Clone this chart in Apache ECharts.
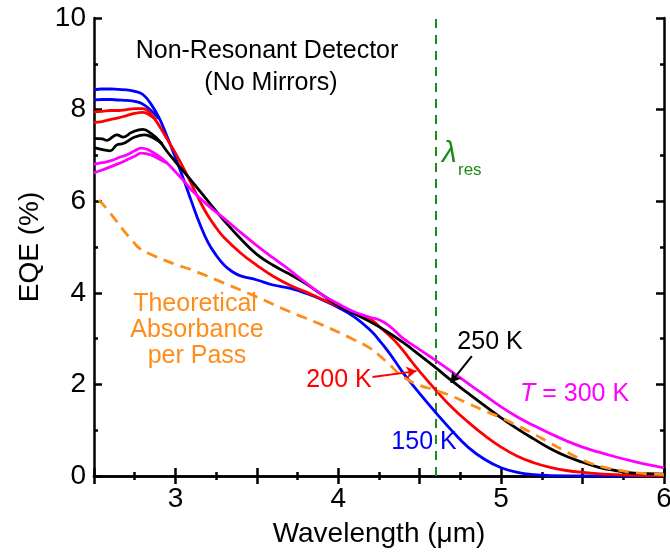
<!DOCTYPE html>
<html><head><meta charset="utf-8">
<script src="https://cdn.jsdelivr.net/npm/echarts@6/dist/echarts.min.js"></script>
<style>html,body{margin:0;padding:0;background:#fff}#c{width:670px;height:556px}</style>
</head><body><div id="c"></div>
<script>
// ---------- data ----------
const wl150  = [2.5,2.55,2.6,2.65,2.7,2.75,2.8,2.85,2.9,2.95,3.0,3.05,3.1,3.15,3.2,3.25,3.3,3.35,3.4,3.5,3.6,3.7,3.8,3.9,4.0,4.1,4.2,4.25,4.3,4.35,4.4,4.5,4.6,4.7,4.8,4.9,5.0,5.1,5.2,5.3,5.5,5.75,6.0];
const eqe150 = [8.43,8.45,8.45,8.44,8.43,8.40,8.33,8.12,7.82,7.40,6.95,6.48,5.98,5.50,5.10,4.82,4.60,4.46,4.37,4.28,4.17,4.10,3.99,3.85,3.68,3.47,3.17,2.97,2.75,2.50,2.24,1.80,1.38,0.98,0.62,0.36,0.18,0.08,0.03,0.01,0.0,0.0,0.0];
const wl150b  = [2.5,2.55,2.6,2.65,2.7,2.75,2.8,2.85,2.9];
const eqe150b = [8.21,8.22,8.22,8.21,8.20,8.18,8.12,7.98,7.80];

const wl200  = [2.5,2.55,2.6,2.65,2.7,2.75,2.8,2.85,2.9,2.95,3.0,3.05,3.1,3.15,3.2,3.25,3.3,3.4,3.5,3.6,3.7,3.8,3.9,4.0,4.1,4.2,4.25,4.3,4.35,4.4,4.45,4.5,4.6,4.7,4.8,4.9,5.0,5.1,5.2,5.3,5.4,5.5,5.7,6.0];
const eqe200 = [7.95,7.96,7.98,7.98,8.00,8.02,8.02,7.90,7.65,7.35,7.05,6.72,6.36,6.00,5.68,5.42,5.20,4.87,4.60,4.36,4.17,4.02,3.86,3.71,3.56,3.42,3.27,3.11,2.94,2.73,2.50,2.28,1.87,1.49,1.17,0.88,0.63,0.43,0.29,0.19,0.12,0.08,0.03,0.01];
const wl200b  = [2.5,2.55,2.6,2.65,2.7,2.75,2.8,2.85,2.88];
const eqe200b = [7.72,7.74,7.78,7.82,7.87,7.92,7.94,7.86,7.78];

const wl250  = [2.5,2.55,2.58,2.62,2.64,2.68,2.73,2.8,2.85,2.9,2.95,3.0,3.05,3.1,3.2,3.3,3.4,3.5,3.6,3.7,3.8,3.9,4.0,4.1,4.2,4.3,4.4,4.5,4.6,4.7,4.8,4.9,5.0,5.1,5.2,5.3,5.4,5.5,5.6,5.7,5.8,5.9,6.0];
const eqe250 = [7.37,7.36,7.33,7.42,7.45,7.40,7.50,7.57,7.48,7.32,7.08,6.86,6.65,6.44,6.00,5.57,5.18,4.84,4.60,4.41,4.20,3.96,3.72,3.54,3.36,3.15,2.91,2.64,2.36,2.07,1.80,1.53,1.27,1.03,0.81,0.60,0.43,0.30,0.19,0.12,0.07,0.05,0.04];
const wl250b  = [2.5,2.56,2.6,2.64,2.68,2.75,2.81,2.87,2.92];
const eqe250b = [7.17,7.12,7.10,7.23,7.26,7.40,7.45,7.37,7.25];

const wl300  = [2.5,2.55,2.6,2.65,2.7,2.75,2.79,2.83,2.9,2.95,3.0,3.05,3.1,3.2,3.3,3.4,3.5,3.6,3.7,3.8,3.9,4.0,4.1,4.2,4.25,4.3,4.35,4.4,4.5,4.6,4.7,4.8,4.9,5.0,5.1,5.2,5.3,5.4,5.5,5.6,5.7,5.8,5.9,6.0];
const eqe300 = [6.81,6.84,6.88,6.95,7.01,7.10,7.16,7.13,6.98,6.83,6.64,6.45,6.24,5.91,5.62,5.32,5.03,4.76,4.50,4.22,3.96,3.76,3.58,3.46,3.41,3.31,3.16,3.00,2.76,2.52,2.27,2.01,1.76,1.51,1.29,1.10,0.93,0.77,0.63,0.52,0.42,0.33,0.25,0.18];
const wl300b  = [2.5,2.55,2.6,2.65,2.7,2.75,2.79,2.85,2.9,2.95];
const eqe300b = [6.62,6.68,6.75,6.82,6.90,6.98,7.05,7.01,6.92,6.83];

const wlTheory  = [2.53,2.6,2.68,2.74,2.78,2.88,3.0,3.1,3.3,3.5,3.7,3.9,4.1,4.2,4.25,4.3,4.4,4.5,4.6,4.7,4.8,4.9,5.0,5.1,5.2,5.3,5.4,5.5,5.6,5.7,5.8,5.9,6.0];
const absTheory = [6.03,5.74,5.37,5.12,4.97,4.79,4.62,4.50,4.21,3.91,3.59,3.30,2.97,2.78,2.64,2.48,2.16,1.98,1.87,1.74,1.58,1.42,1.27,1.10,0.92,0.72,0.53,0.35,0.22,0.14,0.08,0.05,0.03];

const lambdaRes = 4.6;
const xMin = 2.5, xMax = 6, xStep = 0.5;
const yMin = 0, yMax = 10, yStep = 2;

// ---------- chart ----------
const FONT = '"Liberation Sans", Arial, Helvetica, sans-serif';
const zip = (a, b) => a.map((v, i) => [v, b[i]]);
const LW = 2.8;

function curve(name, xs, ys, color, extra) {
  return Object.assign({
    name, type: 'line', data: zip(xs, ys), showSymbol: false, symbol: 'none',
    smooth: 0.45, lineStyle: { color, width: LW }, silent: true
  }, extra || {});
}
function arrow(from, to, color) {
  return {
    silent: true, symbol: ['none', 'arrow'], symbolSize: [9, 10],
    label: { show: false },
    lineStyle: { color, width: 2, type: 'solid' },
    data: [[{ coord: from }, { coord: to }]]
  };
}

const axisBase = {
  type: 'value', min: xMin, max: xMax, interval: xStep,
  axisLine: { show: true, lineStyle: { color: '#000', width: 2.5 } },
  axisTick: { show: true, inside: true, length: 8, lineStyle: { color: '#000', width: 2.5 } },
  minorTick: { show: true, splitNumber: 2, length: 4, lineStyle: { color: '#000', width: 2.5 } },
  splitLine: { show: false }, minorSplitLine: { show: false }
};
const yBase = Object.assign({}, axisBase, { min: yMin, max: yMax, interval: yStep });

const chart = echarts.init(document.getElementById('c'), null, { renderer: 'canvas' });
chart.setOption({
  animation: false,
  backgroundColor: '#fff',
  grid: { left: 94, right: 6, top: 18, bottom: 80, containLabel: false, outerBoundsMode: 'none' },
  xAxis: [
    Object.assign({}, axisBase, {
      position: 'bottom',
      axisLabel: { formatter: v => Number.isInteger(v) ? String(v) : '', fontSize: 28, color: '#000', fontFamily: FONT, margin: 9 },
      name: 'Wavelength (\u03bcm)', nameLocation: 'middle', nameGap: 44,
      nameTextStyle: { fontSize: 28, color: '#000', fontFamily: FONT, verticalAlign: 'top' }
    }),
    Object.assign({}, axisBase, { position: 'top', axisLabel: { show: false } })
  ],
  yAxis: [
    Object.assign({}, yBase, {
      position: 'left',
      axisLabel: { fontSize: 28, color: '#000', fontFamily: FONT, margin: 8 },
      name: 'EQE (%)', nameLocation: 'middle', nameGap: 50,
      nameTextStyle: { fontSize: 28, color: '#000', fontFamily: FONT }
    }),
    Object.assign({}, yBase, { position: 'right', axisLabel: { show: false } })
  ],
  series: [
    { name: 'lambda_res', type: 'line', data: [[lambdaRes, yMin], [lambdaRes, yMax]], showSymbol: false, symbol: 'none',
      lineStyle: { color: '#1c8c1c', width: 2, type: [9, 7] }, silent: true, z: 1 },
    curve('150 K', wl150, eqe150, '#0000ff'),
    curve('150 K b', wl150b, eqe150b, '#0000ff'),
    curve('200 K', wl200, eqe200, '#ff0000', { markLine: arrow([4.21, 2.16], [4.48, 2.29], '#ff0000') }),
    curve('200 K b', wl200b, eqe200b, '#ff0000'),
    curve('250 K', wl250, eqe250, '#000000', { markLine: arrow([4.82, 2.62], [4.69, 2.04], '#000000') }),
    curve('250 K b', wl250b, eqe250b, '#000000'),
    curve('300 K', wl300, eqe300, '#ff00ff'),
    curve('300 K b', wl300b, eqe300b, '#ff00ff'),
    curve('Theory', wlTheory, absTheory, '#ff8c1a', { lineStyle: { color: '#ff8c1a', width: LW, type: [11, 7] } })
  ],
  graphic: [
    { type: 'text', x: 267, y: 51, style: { text: 'Non-Resonant Detector', font: '25px ' + FONT, fill: '#000', align: 'center', verticalAlign: 'middle' } },
    { type: 'text', x: 271, y: 83, style: { text: '(No Mirrors)', font: '25px ' + FONT, fill: '#000', align: 'center', verticalAlign: 'middle' } },
    { type: 'text', x: 195, y: 304, style: { text: 'Theoretical', font: '25px ' + FONT, fill: '#ff8c1a', align: 'center', verticalAlign: 'middle' } },
    { type: 'text', x: 197, y: 330, style: { text: 'Absorbance', font: '25px ' + FONT, fill: '#ff8c1a', align: 'center', verticalAlign: 'middle' } },
    { type: 'text', x: 197, y: 356, style: { text: 'per Pass', font: '25px ' + FONT, fill: '#ff8c1a', align: 'center', verticalAlign: 'middle' } },
    { type: 'text', x: 490, y: 342, style: { text: '250 K', font: '25px ' + FONT, fill: '#000', align: 'center', verticalAlign: 'middle' } },
    { type: 'text', x: 339, y: 380, style: { text: '200 K', font: '25px ' + FONT, fill: '#ff0000', align: 'center', verticalAlign: 'middle' } },
    { type: 'text', x: 424, y: 442, style: { text: '150 K', font: '25px ' + FONT, fill: '#0000ff', align: 'center', verticalAlign: 'middle' } },
    { type: 'text', x: 520, y: 394, style: {
        text: '{i|T} = 300 K', font: '25px ' + FONT, fill: '#ff00ff', align: 'left', verticalAlign: 'middle',
        rich: { i: { fontStyle: 'italic', fontSize: 25, fontFamily: FONT, fill: '#ff00ff' } } } },
    { type: 'text', x: 442, y: 154, style: { text: '\u03bb', font: 'italic 30px ' + FONT, fill: '#1c8c1c', align: 'left', verticalAlign: 'middle' } },
    { type: 'text', x: 458, y: 170, style: { text: 'res', font: '17px ' + FONT, fill: '#1c8c1c', align: 'left', verticalAlign: 'middle' } }
  ]
});
</script>
</body></html>
